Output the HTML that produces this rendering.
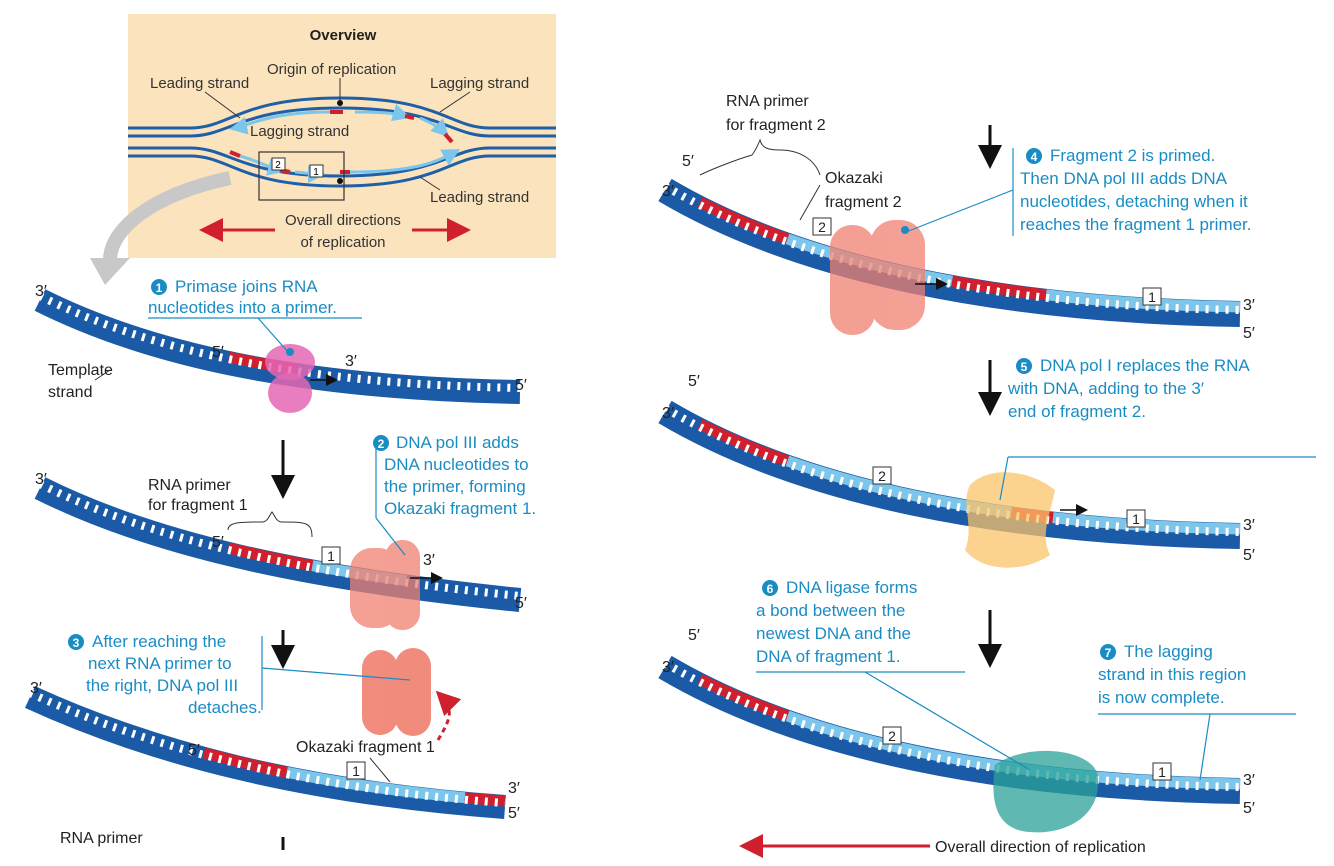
<!DOCTYPE html>
<html><head><meta charset="utf-8"><style>
body{margin:0;background:#fff;}
svg{display:block;font-family:"Liberation Sans",sans-serif;}
.b{fill:#1a8cc4;font-size:17px;}
.k{fill:#333;font-size:15px;}
.p{fill:#222;font-size:16px;}
</style></head><body>
<svg width="1334" height="866" viewBox="0 0 1334 866">
<defs>
<marker id="ar" markerWidth="8" markerHeight="8" refX="6" refY="4" orient="auto"><path d="M0,0L8,4L0,8z" fill="#111"/></marker>
<marker id="rr" markerWidth="8" markerHeight="8" refX="6" refY="4" orient="auto"><path d="M0,0L8,4L0,8z" fill="#d0202e"/></marker>
<marker id="lb" markerWidth="6" markerHeight="6" refX="4" refY="3" orient="auto"><path d="M0,0L6,3L0,6z" fill="#7cc6ec"/></marker>
<path id="s1" d="M40,300 C150,355 300,388 520,392"/>
<path id="s2" d="M40,488 C150,543 300,578 520,600"/>
<path id="s3" d="M30,697 C150,752 300,792 505,807"/>
<path id="s4" d="M665,190 C800,270 1000,310 1240,314"/>
<path id="s5" d="M665,412 C800,492 1000,532 1240,536"/>
<path id="s6" d="M665,667 C800,747 1000,787 1240,791"/>
</defs>
<!-- Overview -->
<rect x="128" y="14" width="428" height="244" fill="#fbe3bd"/>
<text x="343" y="40" text-anchor="middle" font-weight="bold" font-size="15" fill="#222">Overview</text>
<g fill="none" stroke="#1f5fa8" stroke-width="3">
<path d="M128,128 H190 C230,128 240,98 340,98 C440,98 450,128 490,128 H556"/>
<path d="M128,136 H190 C230,136 240,108 340,108 C440,108 450,136 490,136 H556"/>
<path d="M128,148 H190 C230,148 240,176 340,176 C440,176 450,148 490,148 H556"/>
<path d="M128,156 H190 C230,156 240,186 340,186 C440,186 450,156 490,156 H556"/>
</g>
<g fill="none" stroke="#7cc6ec" stroke-width="3">
<path d="M330,112 C270,112 250,125 235,128" marker-end="url(#lb)"/>
<path d="M355,112 C380,112 395,113 405,116" marker-end="url(#lb)"/>
<path d="M420,118 C430,122 440,128 445,133" marker-end="url(#lb)"/>
<path d="M350,172 C420,172 440,160 455,152" marker-end="url(#lb)"/>
<path d="M240,156 C255,160 265,166 280,170" marker-end="url(#lb)"/>
<path d="M295,172 C305,173 312,174 320,174" marker-end="url(#lb)"/>
</g>
<g stroke="#d0202e" stroke-width="4"><path d="M330,112 H343"/><path d="M405,116 L414,118"/><path d="M445,134 L452,142"/><path d="M230,152 L240,156"/><path d="M280,170 L290,172"/><path d="M340,172 L350,172"/></g>
<circle cx="340" cy="103" r="3" fill="#111"/><circle cx="340" cy="181" r="3" fill="#111"/>
<rect x="259" y="152" width="85" height="48" fill="none" stroke="#333" stroke-width="1.2"/>
<rect x="272" y="158" width="13" height="12" fill="#fff" stroke="#333"/><text x="278" y="168" font-size="10" text-anchor="middle">2</text>
<rect x="310" y="165" width="13" height="12" fill="#fff" stroke="#333"/><text x="316" y="175" font-size="10" text-anchor="middle">1</text>
<g class="k"><text x="150" y="88">Leading strand</text><text x="267" y="74">Origin of replication</text><text x="430" y="88">Lagging strand</text><text x="250" y="136">Lagging strand</text><text x="430" y="202">Leading strand</text><text x="343" y="225" text-anchor="middle">Overall directions</text><text x="343" y="247" text-anchor="middle">of replication</text></g>
<g stroke="#333" fill="none" stroke-width="1"><path d="M205,92 L240,118"/><path d="M340,78 V100"/><path d="M470,92 L440,112"/><path d="M440,190 L420,177"/></g>
<path d="M275,230 H205" stroke="#d0202e" stroke-width="3" marker-end="url(#rr)"/>
<path d="M412,230 H465" stroke="#d0202e" stroke-width="3" marker-end="url(#rr)"/>
<path d="M230,178 C150,195 110,230 110,260" stroke="#c8c8c8" stroke-width="14" fill="none"/>
<path d="M90,258 L130,258 L105,285z" fill="#c8c8c8"/>

<!-- strand bodies -->
<g fill="none">
<use href="#s1" stroke="#1a5aa6" stroke-width="24"/>
<use href="#s2" stroke="#1a5aa6" stroke-width="24"/>
<use href="#s3" stroke="#1a5aa6" stroke-width="24"/>
<use href="#s4" stroke="#1a5aa6" stroke-width="26"/>
<use href="#s5" stroke="#1a5aa6" stroke-width="26"/>
<use href="#s6" stroke="#1a5aa6" stroke-width="26"/>
</g>
<!-- new strands -->
<g fill="none" stroke-width="11">
<use href="#s1" transform="translate(0,-6)" stroke="#d0202e" stroke-dasharray="0 200 68 2000"/>
<use href="#s2" transform="translate(0,-6)" stroke="#d0202e" stroke-dasharray="0 200 86 2000"/>
<use href="#s2" transform="translate(0,-6)" stroke="#7cc6ec" stroke-dasharray="0 286 95 2000"/>
<use href="#s3" transform="translate(0,-6)" stroke="#d0202e" stroke-dasharray="0 185 85 2000"/>
<use href="#s3" transform="translate(0,-6)" stroke="#7cc6ec" stroke-dasharray="0 270 180 2000"/>
<use href="#s3" transform="translate(0,-6)" stroke="#d0202e" stroke-dasharray="0 450 40 2000"/>
<use href="#s4" transform="translate(0,-7)" stroke="#d0202e" stroke-dasharray="0 40 95 2000"/>
<use href="#s4" transform="translate(0,-7)" stroke="#7cc6ec" stroke-dasharray="0 135 170 2000"/>
<use href="#s4" transform="translate(0,-7)" stroke="#d0202e" stroke-dasharray="0 305 95 2000"/>
<use href="#s4" transform="translate(0,-7)" stroke="#7cc6ec" stroke-dasharray="0 400 260 2000"/>
<use href="#s5" transform="translate(0,-7)" stroke="#d0202e" stroke-dasharray="0 40 95 2000"/>
<use href="#s5" transform="translate(0,-7)" stroke="#7cc6ec" stroke-dasharray="0 135 230 2000"/>
<use href="#s5" transform="translate(0,-7)" stroke="#d0202e" stroke-dasharray="0 365 42 2000"/>
<use href="#s5" transform="translate(0,-7)" stroke="#7cc6ec" stroke-dasharray="0 407 260 2000"/>
<use href="#s6" transform="translate(0,-7)" stroke="#d0202e" stroke-dasharray="0 40 95 2000"/>
<use href="#s6" transform="translate(0,-7)" stroke="#7cc6ec" stroke-dasharray="0 135 530 2000"/>
</g>
<!-- ticks -->
<g fill="none" stroke="#fff" stroke-width="8" stroke-dasharray="3 7">
<use href="#s1" transform="translate(0,-4)"/><use href="#s2" transform="translate(0,-4)"/><use href="#s3" transform="translate(0,-4)"/>
<use href="#s4" transform="translate(0,-4)"/><use href="#s5" transform="translate(0,-4)"/><use href="#s6" transform="translate(0,-4)"/>
</g>
<!-- strand end labels -->
<g class="p">
<text x="35" y="296">3′</text><text x="212" y="357">5′</text><text x="345" y="366">3′</text><text x="515" y="390">5′</text>
<text x="35" y="484">3′</text><text x="212" y="547">5′</text><text x="423" y="565">3′</text><text x="515" y="608">5′</text>
<text x="30" y="693">3′</text><text x="188" y="755">5′</text><text x="508" y="793">3′</text><text x="508" y="818">5′</text>
<text x="682" y="166">5′</text><text x="662" y="196">3′</text><text x="1243" y="310">3′</text><text x="1243" y="338">5′</text>
<text x="688" y="386">5′</text><text x="662" y="418">3′</text><text x="1243" y="530">3′</text><text x="1243" y="560">5′</text>
<text x="688" y="640">5′</text><text x="662" y="672">3′</text><text x="1243" y="785">3′</text><text x="1243" y="813">5′</text>
</g>
<!-- enzymes -->
<ellipse cx="290" cy="362" rx="25" ry="18" fill="#e467b4" opacity=".85"/><ellipse cx="290" cy="393" rx="22" ry="20" fill="#e467b4" opacity=".85"/>
<circle cx="290" cy="352" r="4" fill="#1a8cc4"/>
<g fill="#f08070" opacity=".75"><rect x="350" y="548" width="50" height="80" rx="22"/><rect x="385" y="540" width="35" height="90" rx="17"/></g>
<g fill="#f08070" opacity=".9"><rect x="362" y="650" width="36" height="85" rx="18"/><rect x="395" y="648" width="36" height="88" rx="18"/></g>
<g fill="#f08070" opacity=".75"><rect x="830" y="225" width="45" height="110" rx="22"/><rect x="870" y="220" width="55" height="110" rx="25"/></g>
<circle cx="905" cy="230" r="4" fill="#1a8cc4"/>
<path d="M970,485 C990,465 1030,470 1055,490 C1050,515 1040,535 1050,555 C1020,575 980,570 965,550 C975,525 960,505 970,485z" fill="#fbc36a" opacity=".75"/>
<path d="M995,765 C1030,740 1100,750 1098,780 C1100,820 1060,835 1030,832 C995,830 990,800 995,765z" fill="#2aa198" opacity=".75"/>
<!-- small arrows -->
<g stroke="#111" stroke-width="1.5" fill="none" marker-end="url(#ar)"><path d="M310,380 H335"/><path d="M410,578 H440"/><path d="M915,284 H945"/><path d="M1060,510 H1085"/></g>
<!-- big arrows -->
<g stroke="#111" stroke-width="3" marker-end="url(#ar)"><path d="M283,440 V493"/><path d="M283,630 V663"/><path d="M990,125 V163"/><path d="M990,360 V410"/><path d="M990,610 V662"/></g>
<path d="M930,846 H745" stroke="#d0202e" stroke-width="3" marker-end="url(#rr)"/>
<text x="935" y="852" class="p" font-size="17">Overall direction of replication</text>
<path d="M283,837 V850" stroke="#111" stroke-width="3"/>
<path d="M438,740 C450,720 455,710 440,695" stroke="#d0202e" stroke-width="3" stroke-dasharray="5 4" fill="none" marker-end="url(#rr)"/>
<!-- number boxes -->
<g fill="#fff" stroke="#333"><rect x="322" y="547" width="18" height="17"/><rect x="347" y="762" width="18" height="17"/><rect x="813" y="218" width="18" height="17"/><rect x="1143" y="288" width="18" height="17"/><rect x="873" y="467" width="18" height="17"/><rect x="1127" y="510" width="18" height="17"/><rect x="883" y="727" width="18" height="17"/><rect x="1153" y="763" width="18" height="17"/></g>
<g font-size="14" text-anchor="middle" fill="#222"><text x="331" y="561">1</text><text x="356" y="776">1</text><text x="822" y="232">2</text><text x="1152" y="302">1</text><text x="882" y="481">2</text><text x="1136" y="524">1</text><text x="892" y="741">2</text><text x="1162" y="777">1</text></g>
<!-- black labels -->
<g class="p">
<text x="48" y="375">Template</text><text x="48" y="397">strand</text>
<text x="148" y="490">RNA primer</text><text x="148" y="510">for fragment 1</text>
<text x="296" y="752">Okazaki fragment 1</text>
<text x="60" y="843">RNA primer</text>
<text x="726" y="106">RNA primer</text><text x="726" y="130">for fragment 2</text>
<text x="825" y="183">Okazaki</text><text x="825" y="207">fragment 2</text>
</g>
<g stroke="#333" fill="none"><path d="M95,380 L110,370"/><path d="M228,530 C228,522 240,522 262,522 C268,522 270,514 272,512 C274,514 276,522 282,522 C305,522 312,522 312,537"/><path d="M700,175 C710,170 735,160 752,155 C756,150 758,145 760,140 C762,148 768,150 780,150 C800,150 815,160 820,175"/><path d="M820,185 L800,220"/><path d="M370,758 L390,782"/></g>
<!-- blue labels -->
<g class="b">
<circle cx="159" cy="287" r="8" fill="#1a8cc4"/><text x="159" y="292" fill="#fff" font-size="12" text-anchor="middle" font-weight="bold">1</text>
<text x="175" y="292">Primase joins RNA</text><text x="148" y="313">nucleotides into a primer.</text>
<circle cx="381" cy="443" r="8" fill="#1a8cc4"/><text x="381" y="448" fill="#fff" font-size="12" text-anchor="middle" font-weight="bold">2</text>
<text x="396" y="448">DNA pol III adds</text><text x="384" y="470">DNA nucleotides to</text><text x="384" y="492">the primer, forming</text><text x="384" y="514">Okazaki fragment 1.</text>
<circle cx="76" cy="642" r="8" fill="#1a8cc4"/><text x="76" y="647" fill="#fff" font-size="12" text-anchor="middle" font-weight="bold">3</text>
<text x="92" y="647">After reaching the</text><text x="88" y="669">next RNA primer to</text><text x="86" y="691">the right, DNA pol III</text><text x="188" y="713">detaches.</text>
<circle cx="1034" cy="156" r="8" fill="#1a8cc4"/><text x="1034" y="161" fill="#fff" font-size="12" text-anchor="middle" font-weight="bold">4</text>
<text x="1050" y="161">Fragment 2 is primed.</text><text x="1020" y="184">Then DNA pol III adds DNA</text><text x="1020" y="207">nucleotides, detaching when it</text><text x="1020" y="230">reaches the fragment 1 primer.</text>
<circle cx="1024" cy="366" r="8" fill="#1a8cc4"/><text x="1024" y="371" fill="#fff" font-size="12" text-anchor="middle" font-weight="bold">5</text>
<text x="1040" y="371">DNA pol I replaces the RNA</text><text x="1008" y="394">with DNA, adding to the 3′</text><text x="1008" y="417">end of fragment 2.</text>
<circle cx="770" cy="588" r="8" fill="#1a8cc4"/><text x="770" y="593" fill="#fff" font-size="12" text-anchor="middle" font-weight="bold">6</text>
<text x="786" y="593">DNA ligase forms</text><text x="756" y="616">a bond between the</text><text x="756" y="639">newest DNA and the</text><text x="756" y="662">DNA of fragment 1.</text>
<circle cx="1108" cy="652" r="8" fill="#1a8cc4"/><text x="1108" y="657" fill="#fff" font-size="12" text-anchor="middle" font-weight="bold">7</text>
<text x="1124" y="657">The lagging</text><text x="1098" y="680">strand in this region</text><text x="1098" y="703">is now complete.</text>
</g>
<g stroke="#1a8cc4" fill="none" stroke-width="1.2">
<path d="M148,318 H362"/><path d="M258,318 L288,352"/>
<path d="M376,443 V518"/><path d="M376,518 L405,555"/>
<path d="M262,636 V710"/><path d="M262,668 L410,680"/>
<path d="M1013,148 V236"/><path d="M1013,190 L906,232"/>
<path d="M1008,457 H1316"/><path d="M1008,457 L1000,500"/>
<path d="M756,672 H965"/><path d="M865,672 L1030,770"/>
<path d="M1098,714 H1296"/><path d="M1210,714 L1200,780"/>
</g>
</svg>
</body></html>
